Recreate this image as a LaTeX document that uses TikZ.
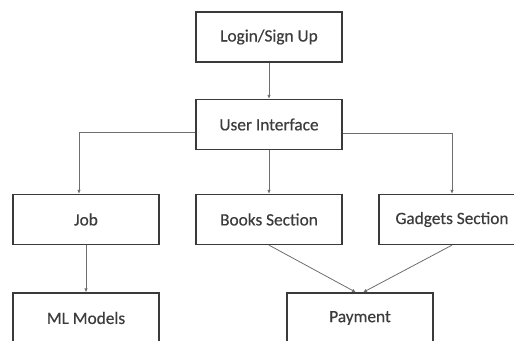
\documentclass[tikz,border=0pt]{standalone}
\usepackage{fontspec}
\setmainfont{Carlito}[FakeBold=0.4]
\usetikzlibrary{arrows.meta}
\definecolor{boxline}{HTML}{3A3A3A}
\definecolor{linkline}{HTML}{6E6E6E}
\definecolor{labeltext}{HTML}{3C3C3C}
\tikzset{block/.style={draw=boxline, line width=1.3pt, minimum width=146pt, minimum height=50pt, inner sep=0pt, text=labeltext, font=\fontsize{17.3}{19}\selectfont}}
\tikzset{link/.style={draw=linkline, line width=0.8pt, -{Latex[length=4pt,width=3.5pt]}}}

\begin{document}
\begin{tikzpicture}[x=1pt,y=-1pt]
        \clip (0,0) rectangle (514,340);
        \fill [white] (0,0) rectangle (514,340);
        \node [block] (login) at (269,37) {Login/Sign Up};
        \node [block] (ui) at (269,124.5) {User Interface};
        \node [block] (job) at (86,219.5) {Job};
        \node [block] (books) at (269,219.5) {Books Section};
        \node [block] (gadgets) at (452,219.5) {Gadgets Section};
        \node [block] (ml) at (86,318) {ML Models};
        \node [block] (payment) at (360,318) {Payment};
        \draw [link] (login) -- (ui);
        \draw [link] (ui.186.6) -| ([xshift=-7pt]job.north);
        \draw [link] (ui) -- (books);
        \draw [link] (ui.353.4) -| (gadgets.north);
        \draw [link] (job) -- (ml);
        \draw [link] (books.south) -- ([xshift=-4pt]payment.north);
        \draw [link] (gadgets.south) -- ([xshift=3pt]payment.north);
    \end{tikzpicture}
\end{document}
